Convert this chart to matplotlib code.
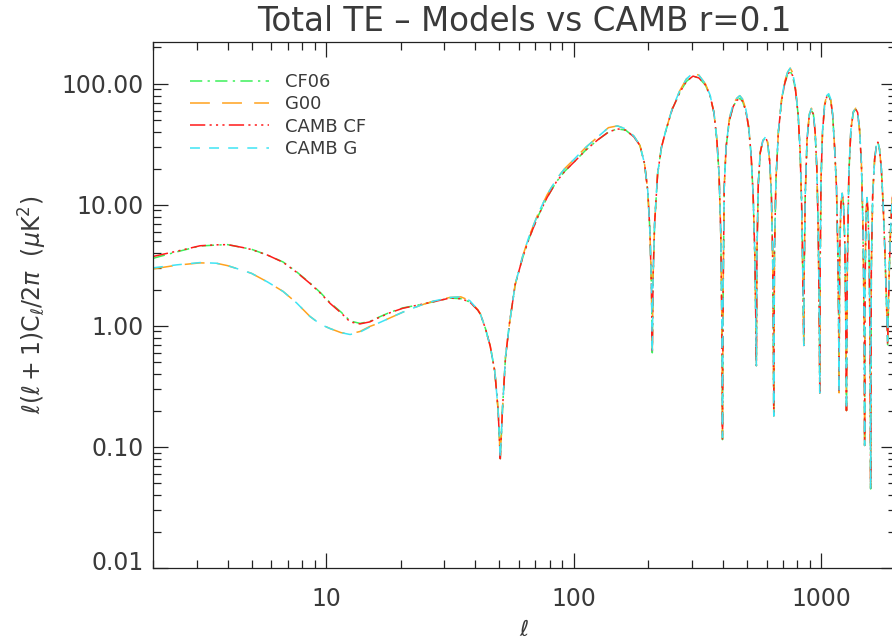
import matplotlib
matplotlib.use("Agg")
import matplotlib.pyplot as plt
import matplotlib.ticker as mticker
import matplotlib.transforms as mtrans
import numpy as np

# ---------------- data ----------------
ell_low = [2, 2.5, 3.1, 3.6, 4.0, 4.6, 5.0, 5.8, 6.7, 7.6, 8.6, 9.5, 10.4, 11.5,
           12.5, 13.7, 15, 16, 18, 20.4, 24, 27, 31.6, 35, 38, 41]
cf06_low = [3.62, 4.1, 4.58, 4.66, 4.70, 4.45, 4.3, 3.85, 3.38, 2.8, 2.27, 1.88,
            1.55, 1.30, 1.10, 1.05, 1.09, 1.16, 1.29, 1.41, 1.50, 1.58, 1.70,
            1.68, 1.58, 1.35]
cambcf_low = [3.75, 4.15, 4.6, 4.68, 4.70, 4.45, 4.28, 3.85, 3.36, 2.78, 2.25,
              1.86, 1.53, 1.28, 1.08, 1.04, 1.08, 1.15, 1.28, 1.40, 1.50, 1.58,
              1.70, 1.68, 1.58, 1.35]
g00_low = [2.96, 3.18, 3.32, 3.30, 3.15, 2.88, 2.72, 2.31, 1.93, 1.55, 1.20,
           1.03, 0.95, 0.88, 0.86, 0.90, 0.99, 1.04, 1.16, 1.30, 1.48, 1.60,
           1.72, 1.74, 1.62, 1.36]
cambg_low = [3.02, 3.2, 3.34, 3.30, 3.15, 2.88, 2.72, 2.31, 1.93, 1.55, 1.20,
             1.03, 0.95, 0.88, 0.85, 0.89, 0.98, 1.04, 1.16, 1.30, 1.48, 1.60,
             1.72, 1.74, 1.62, 1.36]

ell_high = [42, 44, 46, 48, 49.5, 50.5, 51.5, 53, 55, 58, 62, 66, 72, 78, 85, 92,
            100, 112, 125, 138, 150, 162, 175, 185, 193, 199, 203, 206, 207.5,
            209, 212, 218, 226, 236, 250, 268, 285, 303, 320, 340, 355, 368, 378,
            386, 392, 396, 398.5, 401, 405, 412, 425, 440, 455, 468, 480, 495,
            508, 520, 530, 538, 543, 546, 549, 556, 566, 580, 595, 606, 618, 628,
            635, 639, 642, 646, 655, 670, 690, 710, 730, 748, 765, 785, 805, 820,
            832, 840, 845, 848.5, 852, 860, 875, 893, 911, 928, 943, 958, 968,
            976, 981, 984.5, 988, 996, 1010, 1030, 1050, 1070, 1090, 1110, 1130,
            1150, 1165, 1173, 1178, 1185, 1198, 1213, 1228, 1242, 1252, 1262,
            1272, 1290, 1315, 1345, 1375, 1400, 1425, 1450, 1468, 1480, 1489,
            1494, 1500, 1512, 1528, 1545, 1560, 1572, 1580, 1590, 1610, 1640,
            1670, 1690, 1715, 1745, 1775, 1805, 1830, 1850, 1875, 1900, 1925,
            1960, 2000]
te_high_cf = [1.25, 0.95, 0.68, 0.42, 0.2, 0.08, 0.2, 0.55, 1.05, 2.2, 3.6, 5.3,
              8.2, 11.5, 15.5, 19.0, 22.5, 28.5, 34.5, 40.0, 42.5, 41.5, 36.5,
              31.0, 22.0, 13.0, 6.0, 2.0, 0.6, 2.5, 7.0, 18.0, 30.0, 42.0, 62.0,
              85.0, 105.0, 116.0, 112.0, 98.0, 80.0, 58.0, 35.0, 18.0, 6.0, 1.2,
              0.115, 2.0, 14.0, 30.0, 50.0, 65.0, 73.0, 76.0, 72.0, 60.0, 44.0,
              26.0, 12.0, 4.0, 1.2, 0.47, 4.0, 15.0, 27.0, 34.0, 36.0, 33.0, 23.0,
              12.0, 4.0, 1.0, 0.18, 4.0, 16.0, 40.0, 72.0, 100.0, 120.0, 127.0,
              117.0, 90.0, 56.0, 28.0, 10.0, 3.0, 1.2, 0.69, 3.0, 12.0, 35.0, 55.0,
              61.0, 56.0, 40.0, 20.0, 8.0, 2.5, 0.9, 0.28, 3.0, 16.0, 40.0, 66.0,
              78.0, 80.0, 73.0, 55.0, 30.0, 14.0, 4.0, 1.2, 0.28, 4.0, 10.0, 12.5,
              10.0, 5.0, 1.5, 0.2, 3.0, 18.0, 42.0, 58.0, 62.0, 58.0, 42.0, 22.0,
              8.0, 2.5, 0.8, 0.103, 2.0, 8.0, 11.5, 8.0, 3.0, 0.7, 0.045, 3.0,
              12.0, 24.0, 32.0, 33.0, 29.0, 20.0, 10.0, 4.0, 1.6, 0.7, 2.5, 6.0,
              10.0, 16.0, 22.0]
te_high_g = [1.25, 0.95, 0.68, 0.42, 0.2, 0.08, 0.2, 0.55, 1.05, 2.2, 3.7, 5.5,
             8.6, 12.1, 16.3, 20.0, 23.7, 30.0, 36.5, 43.5, 45.0, 42.5, 37.0,
             31.0, 22.0, 13.0, 6.0, 2.0, 0.6, 2.5, 7.0, 18.0, 30.0, 42.0, 63.0,
             88.0, 110.0, 123.0, 118.0, 100.0, 81.0, 58.0, 35.0, 18.0, 6.0, 1.2,
             0.12, 2.0, 14.0, 30.0, 52.0, 68.0, 76.0, 80.0, 75.0, 62.0, 45.0,
             26.0, 12.0, 4.0, 1.2, 0.47, 4.0, 15.0, 27.0, 34.0, 36.5, 33.0, 23.0,
             12.0, 4.0, 1.0, 0.18, 4.0, 16.0, 40.0, 74.0, 104.0, 125.0, 135.0,
             124.0, 93.0, 57.0, 28.0, 10.0, 3.0, 1.2, 0.69, 3.0, 12.0, 35.0, 56.0,
             63.0, 57.0, 40.0, 20.0, 8.0, 2.5, 0.9, 0.28, 3.0, 16.0, 41.0, 68.0,
             80.0, 83.0, 75.0, 56.0, 30.0, 14.0, 4.0, 1.2, 0.28, 4.0, 10.0, 12.5,
             10.0, 5.0, 1.5, 0.2, 3.0, 18.0, 42.0, 59.0, 63.0, 58.0, 42.0, 22.0,
             8.0, 2.5, 0.8, 0.103, 2.0, 8.0, 11.5, 8.0, 3.0, 0.7, 0.045, 3.0,
             12.0, 24.0, 32.0, 34.0, 29.0, 20.0, 10.0, 4.0, 1.6, 0.75, 2.5, 6.0,
             10.0, 16.0, 22.0]

series_labels = ["CF06", "G00", "CAMB CF", "CAMB G"]
y_ticks = [0.01, 0.1, 1, 10, 100]
x_ticks = [10, 100, 1000]

# ---------------- figure ----------------
plt.rcParams['font.family'] = ['DejaVu Sans']
plt.rcParams['mathtext.fontset'] = 'dejavusans'
TXT = '#3a3a3a'

W, H = 892, 641
fig = plt.figure(figsize=(W / 100, H / 100), dpi=100)
ax = fig.add_axes([153 / W, (H - 568) / H, (896 - 153) / W, (568 - 42) / H])

ell = ell_low + ell_high
cf06 = cf06_low + te_high_cf
g00 = g00_low + te_high_g
cambcf = cambcf_low + te_high_cf
cambg = cambg_low + te_high_g

lw = 1.1
ax.plot(ell, cf06, color='#3cf05a', lw=lw, dashes=(8, 3.5, 1.5, 3.5), label=series_labels[0])
ax.plot(ell, g00, color='#ffa21e', lw=lw, dashes=(13, 8), label=series_labels[1])
ax.plot(ell, cambcf, color='#ff1a1a', lw=lw,
        dashes=(10, 2.8, 1.4, 2.8, 1.4, 2.8, 1.4, 2.8), label=series_labels[2])
ax.plot(ell, cambg, color='#3ee4f4', lw=lw, dashes=(6.5, 6), label=series_labels[3])

ax.set_xscale('log')
ax.set_yscale('log')
ax.set_xlim(2, 2000)
ax.set_ylim(0.01, 222)

ax.xaxis.set_major_locator(mticker.FixedLocator(x_ticks))
ax.xaxis.set_major_formatter(mticker.FixedFormatter([str(v) for v in x_ticks]))
ax.xaxis.set_minor_locator(mticker.LogLocator(base=10, subs=np.arange(2, 10)))
ax.xaxis.set_minor_formatter(mticker.NullFormatter())
ax.yaxis.set_major_locator(mticker.FixedLocator(y_ticks))
ax.yaxis.set_major_formatter(mticker.FixedFormatter(["%.2f" % v for v in y_ticks]))
ax.yaxis.set_minor_locator(mticker.LogLocator(base=10, subs=np.arange(2, 10)))
ax.yaxis.set_minor_formatter(mticker.NullFormatter())

ax.tick_params(which='both', direction='in', top=True, right=True, width=0.9,
               color='#222222')
ax.tick_params(which='major', length=11)
ax.tick_params(which='minor', length=6)
ax.tick_params(axis='x', which='major', pad=14, labelsize=17, labelcolor=TXT)
ax.tick_params(axis='y', which='major', pad=7, labelsize=17, labelcolor=TXT)
for sp in ax.spines.values():
    sp.set_linewidth(0.9)
    sp.set_color('#222222')

ax.set_title("Total TE \u2013 Models vs CAMB r=0.1", fontsize=23.5, color=TXT, pad=8)
ax.set_xlabel(r"$\ell$", fontsize=16, labelpad=6, color=TXT)
ax.set_ylabel(r"$\ell(\ell+1)\mathrm{C}_\ell/2\pi$  ($\mu$K$^2$)", fontsize=17,
              labelpad=9, color=TXT)

leg = ax.legend(loc='upper left', bbox_to_anchor=(0.040, 0.955), frameon=False,
                fontsize=13, handlelength=4.4, handletextpad=0.85,
                labelspacing=0.24, borderaxespad=0)
for t in leg.get_texts():
    t.set_color(TXT)

fig.canvas.draw()
# lift the bottom "0.01" label a little, as in the reference
for lab in ax.yaxis.get_majorticklabels():
    if lab.get_text() == "0.01":
        lab.set_transform(lab.get_transform() +
                          mtrans.ScaledTranslation(0, 8 / 100, fig.dpi_scale_trans))

fig.savefig("out.png", dpi=100)
